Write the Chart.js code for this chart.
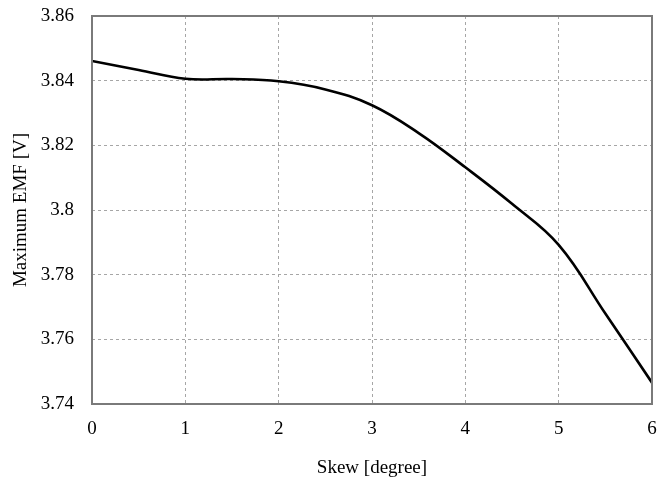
<!DOCTYPE html>
<html>
<head>
<meta charset="utf-8">
<script src="https://cdn.jsdelivr.net/npm/chart.js@4/dist/chart.umd.min.js"></script>
<style>
  html, body { margin: 0; padding: 0; background: #fff; }
  #wrap { width: 662px; height: 479px; position: relative; }
</style>
</head>
<body>
<div id="wrap"><canvas id="c"></canvas></div>
<script>
// skew angle [degree] vs maximum EMF [V]
const skew = [0, 0.5, 1, 1.5, 2, 2.5, 3, 3.5, 4, 4.5, 5, 5.5, 6];
const emf  = [3.8461, 3.8433, 3.8406, 3.8405, 3.8398, 3.8373, 3.8324, 3.8238, 3.8132, 3.8019, 3.7892, 3.7680, 3.7466];
const xTicks = [0, 1, 2, 3, 4, 5, 6];
const yTicks = [3.74, 3.76, 3.78, 3.80, 3.82, 3.84, 3.86];

const serif = "'Liberation Serif', 'Times New Roman', serif";

// gray frame round the plot area
const frame = {
  id: 'frame',
  afterDraw(chart) {
    const { ctx, chartArea: a } = chart;
    ctx.save();
    ctx.strokeStyle = '#7a7a7a';
    ctx.lineWidth = 2;
    ctx.strokeRect(a.left, a.top, a.right - a.left, a.bottom - a.top);
    ctx.restore();
  }
};

new Chart(document.getElementById('c').getContext('2d'), {
  type: 'line',
  data: {
    datasets: [{
      data: skew.map((x, i) => ({ x, y: emf[i] })),
      borderColor: '#000',
      borderWidth: 2.6,
      pointRadius: 0,
      tension: 0.4,
      fill: false,
    }],
  },
  options: {
    responsive: true, maintainAspectRatio: false, animation: false,
    layout: { padding: { top: 16, right: 10, left: 0, bottom: 0 } },
    plugins: { legend: { display: false }, tooltip: { enabled: false } },
    scales: {
      x: {
        type: 'linear', min: 0, max: 6,
        afterBuildTicks: s => { s.ticks = xTicks.map(v => ({ value: v })); },
        afterFit: s => { s.height = 75; s.paddingLeft = 0; s.paddingRight = 0; },
        grid: { color: '#a6a6a6', lineWidth: 1, drawTicks: false },
        border: { display: false, dash: [3, 3] },
        ticks: { color: '#000', font: { family: serif, size: 19 }, padding: 14, maxRotation: 0 },
        title: { display: true, text: 'Skew [degree]', color: '#000', font: { family: serif, size: 19 }, padding: { top: 4, bottom: 0 } },
      },
      y: {
        type: 'linear', min: 3.74, max: 3.86,
        afterBuildTicks: s => { s.ticks = yTicks.map(v => ({ value: v })); },
        afterFit: s => { s.width = 92; s.paddingTop = 0; s.paddingBottom = 0; },
        grid: { color: '#a6a6a6', lineWidth: 1, drawTicks: false },
        border: { display: false, dash: [3, 3] },
        ticks: { color: '#000', font: { family: serif, size: 19 }, padding: 18, callback: v => String(+v.toFixed(2)) },
        title: { display: true, text: 'Maximum EMF [V]', color: '#000', font: { family: serif, size: 19 }, padding: { top: 10, bottom: 0 } },
      },
    },
  },
  plugins: [frame],
});
</script>
</body>
</html>
